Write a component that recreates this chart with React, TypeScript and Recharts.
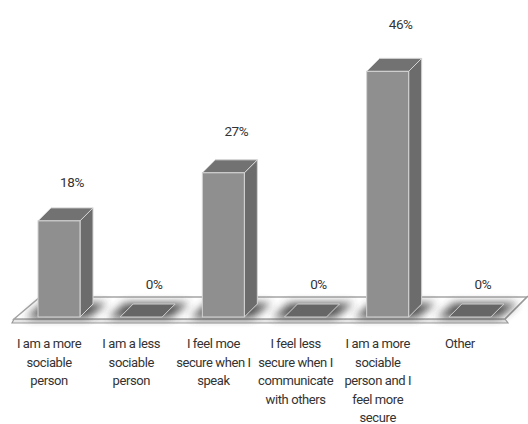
import React from "react";
import { BarChart, Bar, XAxis, YAxis, LabelList, ReferenceLine } from "recharts";

const categories = [
  "I am a more sociable person",
  "I am a less sociable person",
  "I feel moe secure when I speak",
  "I feel less secure when I communicate with others",
  "I am a more sociable person and I feel more secure",
  "Other",
];

const tickLines = [
  ["I am a more", "sociable", "person"],
  ["I am a less", "sociable", "person"],
  ["I feel moe", "secure when I", "speak"],
  ["I feel less", "secure when I", "communicate", "with others"],
  ["I am a more", "sociable", "person and I", "feel more", "secure"],
  ["Other"],
];

const percents = [18, 0, 27, 0, 46, 0];

const data = categories.map((name, i) => ({ name, value: percents[i] }));

const DEPTH = 13;
const FONT = 'Roboto, "Liberation Sans", sans-serif';

// floor slab under the bars, drawn from the zero line
const Floor = (props: any) => {
  const { x1, x2, y1 } = props;
  const front = y1 + 2;
  const back = y1 - 20;
  const fl = x1 - 4;
  const fr = x2 - 6;
  const bl = x1 + 22;
  const br = x2 + 16;
  return (
    <g>
      <polygon
        points={`${fl},${front} ${fr},${front} ${fr + 3},${front + 4} ${fl - 2},${front + 4}`}
        fill="#e6e6e6"
        stroke="#9a9a9a"
        strokeWidth={1.2}
      />
      <polygon
        points={`${fl},${front} ${bl},${back} ${br},${back} ${fr},${front}`}
        fill="#ffffff"
        stroke="#a5a5a5"
        strokeWidth={1.5}
      />
      <line x1={fr} y1={front} x2={br + 1} y2={back - 1} stroke="#9a9a9a" strokeWidth={1.2} />
    </g>
  );
};

const Bar3D = (props: any) => {
  const { x, y, width, height, index } = props;
  const d = DEPTH;
  const base = y + height;
  const fid = `blur-${index}`;
  const shadow = `${x - 12},${base + 1} ${x + width + 8},${base + 1} ${x + width + d + 14},${base - d - 1} ${x + d - 8},${base - d - 1}`;
  return (
    <g>
      <defs>
        <filter id={fid} x="-50%" y="-200%" width="200%" height="500%">
          <feGaussianBlur stdDeviation="4" />
        </filter>
      </defs>
      <polygon points={shadow} fill="#3c3c3c" opacity={0.9} filter={`url(#${fid})`} />
      {height > 0.5 ? (
        <g stroke="#d4d4d4" strokeWidth={1}>
          <polygon
            points={`${x + width},${y} ${x + width + d},${y - d} ${x + width + d},${base - d} ${x + width},${base}`}
            fill="#6c6c6c"
          />
          <polygon
            points={`${x},${y} ${x + d},${y - d} ${x + width + d},${y - d} ${x + width},${y}`}
            fill="#727272"
          />
          <rect x={x} y={y} width={width} height={height} fill="#8f8f8f" />
        </g>
      ) : (
        <polygon
          points={`${x},${base} ${x + d},${base - d} ${x + width + d},${base - d} ${x + width},${base}`}
          fill="#666666"
          stroke="#d0d0d0"
          strokeWidth={1}
        />
      )}
    </g>
  );
};

const ValueLabel = (props: any) => {
  const { x, y, width, value } = props;
  const v = Number(value);
  return (
    <text
      x={x + width / 2 + 13}
      y={y - 33 - v * 0.32}
      textAnchor="middle"
      dominantBaseline="central"
      fill="#333333"
      fontSize={13.5}
      letterSpacing={-0.4}
      fontFamily={FONT}
    >
      {v}%
    </text>
  );
};

const CategoryTick = (props: any) => {
  const { x, y, payload } = props;
  const i = categories.indexOf(payload.value);
  const lines = tickLines[i] || [payload.value];
  const tx = x - 10;
  return (
    <text
      x={tx}
      y={y + 31}
      textAnchor="middle"
      fill="#333333"
      fontSize={13}
      letterSpacing={-0.4}
      fontFamily={FONT}
    >
      {lines.map((l, k) => (
        <tspan key={k} x={tx} dy={k === 0 ? 0 : 18.6}>
          {l}
        </tspan>
      ))}
    </text>
  );
};

export default function App() {
  return (
    <div style={{ position: "absolute", left: 0, top: 0, background: "#fff" }}>
      <BarChart
        width={528}
        height={424}
        data={data}
        margin={{ top: 50, right: 17, bottom: 7, left: 18 }}
      >
        <YAxis hide domain={[0, 50]} />
        <XAxis
          dataKey="name"
          height={100}
          interval={0}
          axisLine={false}
          tickLine={false}
          tickSize={0}
          tickMargin={0}
          tick={<CategoryTick />}
        />
        <ReferenceLine y={0} shape={<Floor />} ifOverflow="visible" zIndex={-10} />
        <Bar dataKey="value" barSize={42} shape={<Bar3D />} isAnimationActive={false}>
          <LabelList dataKey="value" content={<ValueLabel />} />
        </Bar>
      </BarChart>
    </div>
  );
}
